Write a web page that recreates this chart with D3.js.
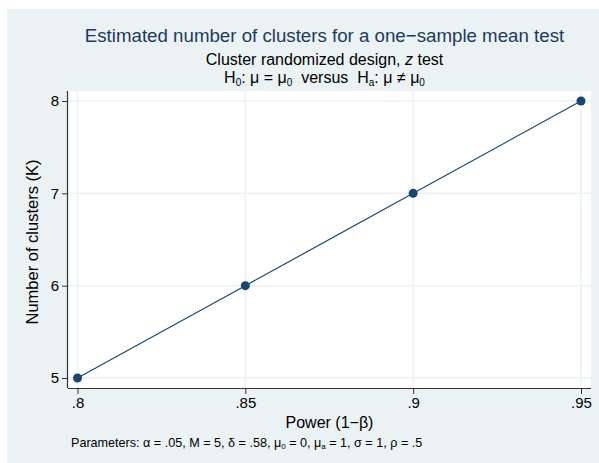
<!DOCTYPE html>
<html>
<head>
<meta charset="utf-8">
<script src="https://cdn.jsdelivr.net/npm/d3@7"></script>
<style>
  body { margin: 0; background: #fff; }
  text { font-family: "Liberation Sans", Arial, sans-serif; }
</style>
</head>
<body>
<svg id="svg" width="599" height="463"></svg>
<script>
// data
var power = [0.80, 0.85, 0.90, 0.95];
var clusters = [5, 6, 7, 8];
var xTicks = [0.80, 0.85, 0.90, 0.95];
var xTickLabels = [".8", ".85", ".9", ".95"];
var yTicks = [5, 6, 7, 8];

var width = 599, height = 463;
var plot = {left: 68, right: 591, top: 91, bottom: 388};
var navy = "#1a476f";

var svg = d3.select("#svg");

// outer background
svg.append("rect").attr("x", 7).attr("y", 9)
  .attr("width", width - 7).attr("height", height - 9)
  .attr("fill", "#eaf2f3");

// plot region
svg.append("rect").attr("x", plot.left).attr("y", plot.top)
  .attr("width", plot.right - plot.left).attr("height", plot.bottom - plot.top)
  .attr("fill", "#fff");

var x = d3.scaleLinear().domain([0.80, 0.95]).range([77.5, 581]);
var y = d3.scaleLinear().domain([5, 8]).range([378, 101]);

// grid lines
svg.append("g").selectAll("line").data(xTicks).enter().append("line")
  .attr("x1", d => x(d)).attr("x2", d => x(d))
  .attr("y1", plot.top).attr("y2", plot.bottom)
  .attr("stroke", "#eaf2f3").attr("stroke-width", 1.5);
svg.append("g").selectAll("line").data(yTicks).enter().append("line")
  .attr("x1", plot.left).attr("x2", plot.right)
  .attr("y1", d => y(d)).attr("y2", d => y(d))
  .attr("stroke", "#eaf2f3").attr("stroke-width", 1.5);

// axes
var axisX = d3.axisBottom(x).tickValues(xTicks)
  .tickFormat((d, i) => xTickLabels[i]).tickSize(6).tickPadding(3).tickSizeOuter(0);
var gx = svg.append("g").attr("transform", "translate(0," + plot.bottom + ")").call(axisX);
gx.select(".domain").attr("d", "M" + plot.left + ",0.5H" + plot.right);

var axisY = d3.axisLeft(y).tickValues(yTicks).tickFormat(d3.format("d"))
  .tickSize(6).tickPadding(3).tickSizeOuter(0);
var gy = svg.append("g").attr("transform", "translate(" + plot.left + ",0)").call(axisY);
gy.select(".domain").attr("d", "M-0.5," + plot.top + "V" + plot.bottom);

[gx, gy].forEach(function(g) {
  g.selectAll(".domain").attr("stroke", "#333").attr("stroke-width", 1.2);
  g.selectAll(".tick line").attr("stroke", "#333");
  g.selectAll(".tick text").attr("font-size", 15).attr("fill", "#000")
    .style("font-family", "Liberation Sans, Arial, sans-serif");
});

// line + markers
var pts = power.map((p, i) => [p, clusters[i]]);
svg.append("path").datum(pts)
  .attr("d", d3.line().x(d => x(d[0])).y(d => y(d[1])))
  .attr("fill", "none").attr("stroke", navy).attr("stroke-width", 1.2);
svg.append("g").selectAll("circle").data(pts).enter().append("circle")
  .attr("cx", d => x(d[0])).attr("cy", d => y(d[1])).attr("r", 4.5)
  .attr("fill", navy);

// titles
var cx = (plot.left + plot.right) / 2 - 5;
svg.append("text").attr("x", cx).attr("y", 42).attr("text-anchor", "middle")
  .attr("font-size", 18.7).attr("fill", "#1e3a5f")
  .text("Estimated number of clusters for a one\u2212sample mean test");

var sub = svg.append("text").attr("x", cx).attr("y", 65).attr("text-anchor", "middle")
  .attr("font-size", 16).attr("fill", "#000");
sub.append("tspan").text("Cluster randomized design, ");
sub.append("tspan").attr("font-style", "italic").text("z");
sub.append("tspan").text(" test");

var h = svg.append("text").attr("x", cx).attr("y", 83).attr("text-anchor", "middle")
  .attr("font-size", 16).attr("fill", "#000");
h.append("tspan").text("H");
h.append("tspan").attr("font-size", 10).attr("dy", 3).text("0");
h.append("tspan").attr("dy", -3).text(": \u03bc = \u03bc");
h.append("tspan").attr("font-size", 10).attr("dy", 3).text("0");
h.append("tspan").attr("dy", -3).text("\u00a0 versus \u00a0H");
h.append("tspan").attr("font-size", 10).attr("dy", 3).text("a");
h.append("tspan").attr("dy", -3).text(": \u03bc \u2260 \u03bc");
h.append("tspan").attr("font-size", 10).attr("dy", 3).text("0");

// axis titles
svg.append("text").attr("x", cx + 5).attr("y", 428).attr("text-anchor", "middle")
  .attr("font-size", 16).text("Power (1\u2212\u03b2)");
svg.append("text").attr("transform", "translate(38,242)rotate(-90)")
  .attr("text-anchor", "middle").attr("font-size", 16.5).text("Number of clusters (K)");

// note
var n = svg.append("text").attr("x", 71).attr("y", 447).attr("font-size", 12.6);
n.append("tspan").text("Parameters: \u03b1 = .05, M = 5, \u03b4 = .58, \u03bc");
n.append("tspan").attr("font-size", 8).attr("dy", 2).text("0");
n.append("tspan").attr("dy", -2).text(" = 0, \u03bc");
n.append("tspan").attr("font-size", 8).attr("dy", 2).text("a");
n.append("tspan").attr("dy", -2).text(" = 1, \u03c3 = 1, \u03c1 = .5");
</script>
</body>
</html>
